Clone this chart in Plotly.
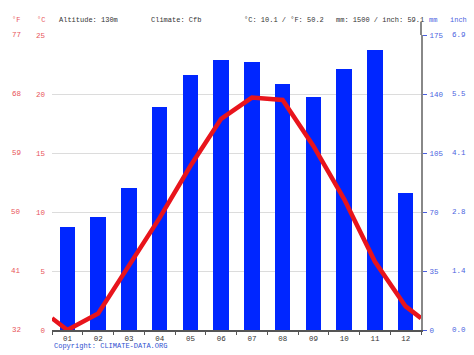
import plotly.graph_objects as go

months = ["01", "02", "03", "04", "05", "06", "07", "08", "09", "10", "11", "12"]
precip_mm = [61, 67, 84, 132, 151, 160, 159, 146, 138, 155, 166, 81]
temp_c = [0.0, 1.4, 5.4, 9.5, 13.9, 17.9, 19.7, 19.5, 15.6, 11.1, 5.8, 2.0]
c_ticks = [0, 5, 10, 15, 20, 25]
f_labels = ["32", "41", "50", "59", "68", "77"]
mm_ticks = [0, 35, 70, 105, 140, 175]
inch_labels = ["0.0", "1.4", "2.8", "4.1", "5.5", "6.9"]
header = {
    "altitude": "Altitude: 130m",
    "climate": "Climate: Cfb",
    "temp": "°C: 10.1 / °F: 50.2",
    "rain": "mm: 1500 / inch: 59.1",
}

W, H = 474, 355
L, R, T, B = 52, 421, 35, 332
PW, PH = R - L, B - T

def px(x):
    return (x - L) / PW

def py(y):
    return (B - y) / PH

RED = "#e8141c"
LRED = "#e8545a"
BLUE = "#0026ff"
LBLUE = "#4a5fe0"
FONT = "Liberation Mono"
FS = 7

xs = list(range(1, 13))
# line continues to chart edges at the Dec/Jan mean (wrap-around)
edge = (temp_c[-1] + temp_c[0]) / 2
line_x = [0.5] + xs + [12.5]
line_y = [edge] + temp_c + [edge]

fig = go.Figure()
# bars on the primary (mm) axis, line on the overlaying (°C) axis so it is drawn on top
fig.add_trace(go.Bar(x=xs, y=precip_mm, width=0.5, marker=dict(color=BLUE, line=dict(width=0)),
                     yaxis="y", showlegend=False))
fig.add_trace(go.Scatter(x=line_x, y=line_y, mode="lines", line=dict(color=RED, width=4.5),
                         cliponaxis=False, showlegend=False, yaxis="y2"))

fig.update_layout(
    width=W, height=H,
    margin=dict(l=L, r=W - R, t=T, b=H - B, pad=0),
    paper_bgcolor="white", plot_bgcolor="white",
    font=dict(family=FONT, size=FS, color="#333"),
    bargap=0,
    xaxis=dict(range=[0.5, 12.5], tickvals=xs, ticktext=months, ticks="",
               showgrid=False, zeroline=False, showline=True, linecolor="#555", linewidth=1.5,
               tickfont=dict(family=FONT, size=FS + 0.5, color="#333"), ticklabelstandoff=0,
               minor=dict(tickvals=[i + 0.5 for i in range(0, 13)], ticks="outside",
                          ticklen=3, tickcolor="#555", tickwidth=1)),
    yaxis=dict(range=[0, 175], side="right", tickvals=mm_ticks,
               ticktext=[str(v) for v in mm_ticks], showgrid=True, gridcolor="#dcdcdc",
               gridwidth=1, zeroline=False,
               ticks="outside", ticklen=4, tickcolor=LBLUE, tickwidth=1,
               tickfont=dict(family=FONT, size=FS + 0.5, color=LBLUE),
               showline=True, linecolor="#888", linewidth=2, ticklabelstandoff=1),
    yaxis2=dict(range=[0, 25], overlaying="y", side="left", tickvals=c_ticks,
                ticktext=[str(v) for v in c_ticks],
                showgrid=False, zeroline=False,
                ticks="", tickfont=dict(family=FONT, size=FS + 0.5, color=LRED),
                ticklabelstandoff=6, showline=False),
)

ann = []
for v, lab in zip(c_ticks, f_labels):
    ann.append(dict(x=px(16), y=v, xref="paper", yref="y2", text=lab, showarrow=False,
                    xanchor="center", yanchor="middle",
                    font=dict(family=FONT, size=FS + 0.5, color=LRED)))
for v, lab in zip(mm_ticks, inch_labels):
    ann.append(dict(x=px(459), y=v, xref="paper", yref="y", text=lab, showarrow=False,
                    xanchor="center", yanchor="middle",
                    font=dict(family=FONT, size=FS + 0.5, color=LBLUE)))

def head(text, x, color="#333", anchor="left"):
    ann.append(dict(x=px(x), y=py(20), xref="paper", yref="paper", text=text, showarrow=False,
                    xanchor=anchor, yanchor="middle", font=dict(family=FONT, size=FS, color=color)))

head("°F", 16, LRED, "center")
head("°C", 41, LRED, "center")
head(header["altitude"], 57)
head(header["climate"], 149)
head(header["temp"], 242)
head(header["rain"], 334)
head("mm", 433, LBLUE, "center")
head("inch", 459, LBLUE, "center")
ann.append(dict(x=px(52), y=py(348.5), xref="paper", yref="paper", text="Copyright: CLIMATE-DATA.ORG",
                showarrow=False, xanchor="left", yanchor="middle",
                font=dict(family=FONT, size=FS, color="#3050d0")))
fig.update_layout(annotations=ann)

fig.add_shape(type="line", xref="paper", yref="paper", x0=1, x1=1, y0=1, y1=py(22),
              line=dict(color="#888", width=2))

fig.write_html("out.html", config={"displayModeBar": False},
               post_script="document.body.style.margin='0';document.body.style.padding='0';")
